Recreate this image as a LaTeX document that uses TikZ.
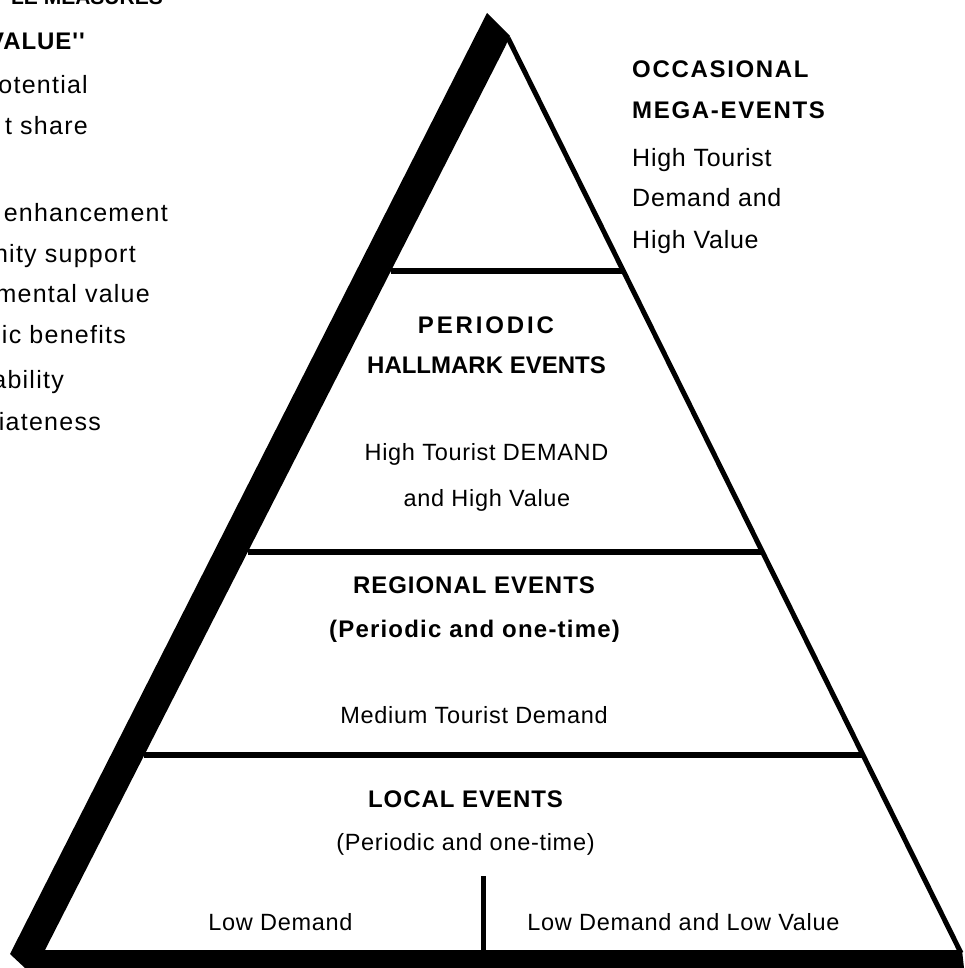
\documentclass[tikz,border=0pt]{standalone}
\usepackage{fontspec}
\setmainfont{Liberation Sans}
\newfontfamily\tierfont{Liberation Sans}

\begin{document}
\begin{tikzpicture}[x=1pt, y=-1pt,
    head/.style={font=\tierfont\bfseries\fontsize{24}{28}\selectfont\addfontfeature{LetterSpace=4}, inner sep=0pt, anchor=base},
    headwide/.style={font=\tierfont\bfseries\fontsize{24}{28}\selectfont\addfontfeature{LetterSpace=7}, inner sep=0pt, anchor=base west},
    note/.style={font=\tierfont\fontsize{23.5}{27}\selectfont\addfontfeature{LetterSpace=3}, inner sep=0pt, anchor=base},
    notebig/.style={font=\tierfont\fontsize{25}{29}\selectfont\addfontfeature{LetterSpace=3}, inner sep=0pt, anchor=base west},
    side/.style={font=\tierfont\fontsize{25}{29}\selectfont\addfontfeature{LetterSpace=5}, inner sep=0pt, anchor=base east},
    tier/.style={line width=6pt}]
  \useasboundingbox (0,0) rectangle (964,968);
  \clip (0,0) rectangle (964,968);

  % pyramid corners
  \coordinate (apex) at (505,47);
  \coordinate (apexR) at (508,38);
  \coordinate (bl) at (45,950);
  \coordinate (br) at (961,953);

  % black band on the left and the base
  \fill (487,13) -- (510,36) -- (apex) -- (bl) -- (962,950) -- (964,968)
    -- (25,968) -- (10,954) -- cycle;
  \draw[line width=5pt] (apexR) -- (br);

  % tiers
  \draw[tier] (intersection of apex--bl and 0,271--1,271) -- (intersection of apexR--br and 0,271--1,271);
  \draw[tier] (intersection of apex--bl and 0,552--1,552) -- (intersection of apexR--br and 0,552--1,552);
  \draw[tier] (intersection of apex--bl and 0,755--1,755) -- (intersection of apexR--br and 0,755--1,755);
  \coordinate (split) at (483.5,876);
  \draw[line width=5pt] (split) -- (split |- bl);

  % left list, cut by the page edge
  \node[side, font=\tierfont\bfseries\fontsize{21}{25}\selectfont] (m0) at (163,5) {LE MEASURES};
  \node[side, font=\tierfont\bfseries\fontsize{24}{28}\selectfont\addfontfeature{LetterSpace=4}] (m1) at (85,50) {VALUE''};
  \node[side] (m2) at (88,94) {potential};
  \node[side] (m3) at (88,135) {t share};
  \node[side] (m4) at (168,222) {enhancement};
  \node[side] (m5) at (136,262) {nity support};
  \node[side] (m6) at (150,302) {mental value};
  \node[side] (m7) at (126,343) {nic benefits};
  \node[side] (m8) at (64,388) {ability};
  \node[side] (m9) at (101,430) {riateness};

  % top
  \node[headwide] (mega1) at (632,78) {OCCASIONAL};
  \node[headwide] (mega2) at (632,119) {MEGA-EVENTS};
  \node[notebig] (mega3) at (632,167) {High Tourist};
  \node[notebig] (mega4) at (632,207) {Demand and};
  \node[notebig] (mega5) at (632,248) {High Value};

  % hallmark
  \node[head, font=\tierfont\bfseries\fontsize{24}{28}\selectfont\addfontfeature{LetterSpace=12}] (hall1) at (486,333) {PERIODIC};
  \node[head, font=\tierfont\bfseries\fontsize{24}{28}\selectfont] (hall2) at (486.5,373) {HALLMARK EVENTS};
  \node[note] (hall3) at (486.5,460) {High Tourist DEMAND};
  \node[note] (hall4) at (487,506) {and High Value};

  % regional
  \node[head] (reg1) at (474,593) {REGIONAL EVENTS};
  \node[head, font=\tierfont\bfseries\fontsize{24}{28}\selectfont\addfontfeature{LetterSpace=5}] (reg2) at (474.5,637) {(Periodic and one-time)};
  \node[note] (reg3) at (474,723) {Medium Tourist Demand};

  % local
  \node[head] (loc1) at (465.5,807) {LOCAL EVENTS};
  \node[note] (loc2) at (465.5,850) {(Periodic and one-time)};
  \node[note] (loc3) at (280.5,930) {Low Demand};
  \node[note] (loc4) at (683.5,930) {Low Demand and Low Value};
\end{tikzpicture}
\end{document}
